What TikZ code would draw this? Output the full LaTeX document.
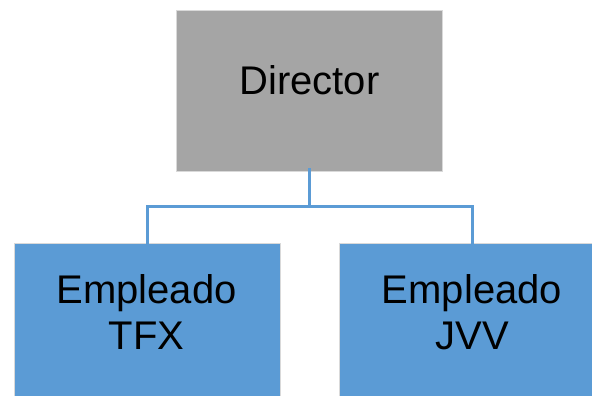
\documentclass[tikz,border=0pt]{standalone}
\usepackage{fontspec}
\setmainfont{Liberation Sans}
\definecolor{boss}{HTML}{A5A5A5}
\definecolor{staff}{HTML}{5B9BD5}
\begin{document}
\begin{tikzpicture}[x=1pt,y=-1pt,
  box/.style={draw=white!85!black, line width=0.8pt, minimum width=266pt, minimum height=161pt, inner sep=0pt, anchor=north west},
  lbl/.style={font=\fontsize{40}{46}\selectfont, anchor=base, inner sep=0pt},
  link/.style={draw=staff, line width=2.6pt}]
\useasboundingbox (0,0) rectangle (592,396);
% boxes
\node[box, fill=boss]  (dir) at (176,10) {};
\node[box, fill=staff] (tfx) at (14,243) {};
\node[box, fill=staff] (jvv) at (339,243) {};
% labels
\node[lbl] (tdir) at (309.5,95) {Director};
\node[lbl] (ttfx1) at (146.5,303) {Empleado};
\node[lbl] (ttfx2) at (146.5,349) {TFX};
\node[lbl] (tjvv1) at (472,303) {Empleado};
\node[lbl] (tjvv2) at (472,349) {JVV};
% connectors
\coordinate (hub) at (dir.south |- 0,206.5);
\draw[link] ([yshift=3.5pt]dir.south) -- (hub);
\draw[link] (tfx.north |- hub) -- ([yshift=-4pt]tfx.north);
\draw[link] (jvv.north |- hub) -- ([yshift=-4pt]jvv.north);
\draw[link] ([xshift=-1.3pt]tfx.north |- hub) -- ([xshift=1.3pt]jvv.north |- hub);
\end{tikzpicture}
\end{document}
